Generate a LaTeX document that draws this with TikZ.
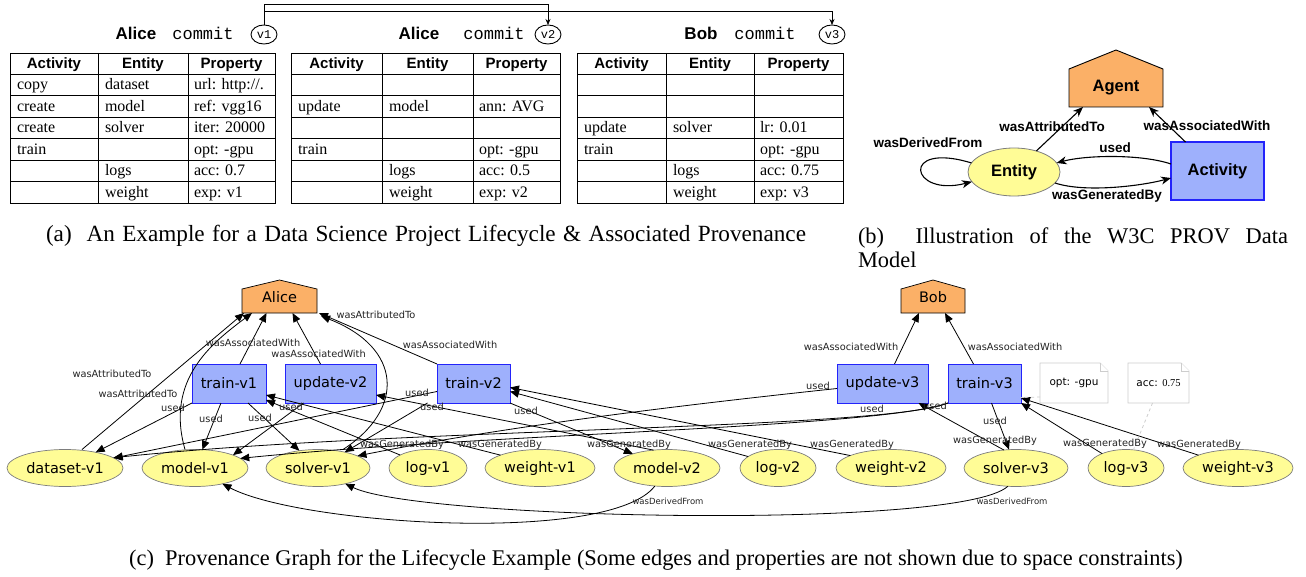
\documentclass[tikz,border=0pt]{standalone}
\usepackage{fontspec}
\setmainfont{Liberation Serif}
\newfontfamily\hvfont{Liberation Sans}
\newfontfamily\crfont{Liberation Mono}
\newfontfamily\dvfont{DejaVu Sans}
\usetikzlibrary{arrows.meta,shapes.geometric,backgrounds}

\definecolor{entfill}{RGB}{255,252,150}
\definecolor{entline}{RGB}{125,125,125}
\definecolor{actfill}{RGB}{158,176,252}
\definecolor{actline}{RGB}{35,35,250}
\definecolor{agfill}{RGB}{251,176,103}
\definecolor{noteline}{RGB}{205,205,205}
\definecolor{lbltext}{RGB}{35,35,35}

\newcommand\fs[1]{\fontsize{#1}{#1}\selectfont}

% one provenance table: id, left, column 1, column 2, right
\newcommand\provgrid[5]{%
  \draw[gridline] (#2,53) rectangle (#5,203);
  \foreach \yy in {74,95.5,117,138.5,160,181.5}{\draw[gridline] (#2,\yy) -- (#5,\yy);}
  \draw[gridline] (#3,53) -- (#3,203);
  \draw[gridline] (#4,53) -- (#4,203);
  \node[headtxt] (#1ha) at ({(#2+#3)/2},68.5) {Activity};
  \node[headtxt] (#1he) at ({(#3+#4)/2},68.5) {Entity};
  \node[headtxt] (#1hp) at ({(#4+#5)/2},68.5) {Property};
}
% one table row: id, row, left, column 1, column 2, activity, entity, property
\newcommand\provrow[8]{%
  \pgfmathsetmacro\rowbase{74+21.5*#2+16}
  \node[celltxt] (#1a#2) at (#3+7,\rowbase) {#6};
  \node[celltxt] (#1e#2) at (#4+7,\rowbase) {#7};
  \node[celltxt] (#1p#2) at (#5+6,\rowbase) {#8};
}

\tikzset{
  every node/.style={inner sep=0pt, outer sep=0pt},
  gridline/.style={line width=0.9pt},
  headtxt/.style={anchor=base, font=\hvfont\bfseries\fs{15}},
  celltxt/.style={anchor=base west, font=\fs{16}},
  titletxt/.style={anchor=base, font=\hvfont\bfseries\fs{17}},
  committxt/.style={anchor=base, font=\crfont\fs{17}},
  vcirc/.style={ellipse, draw, line width=0.9pt, minimum width=26pt, minimum height=19pt, font=\crfont\fs{12}},
  commitarr/.style={line width=0.7pt, -{Stealth[length=6pt,width=5pt]}},
  % overview model
  bent/.style={ellipse, draw=entline, fill=entfill, line width=0.8pt, minimum width=92pt, minimum height=48pt, font=\hvfont\bfseries\fs{16.5}},
  bact/.style={rectangle, draw=actline, fill=actfill, line width=1.1pt, minimum width=93pt, minimum height=58pt, font=\hvfont\bfseries\fs{16.5}},
  bagent/.style={rectangle, minimum width=94pt, minimum height=38pt, text height=12pt, text depth=4.8pt, font=\hvfont\bfseries\fs{16.5}},
  agshape/.style={draw=black, fill=agfill, line width=0.9pt},
  bedge/.style={line width=1.1pt, -{Stealth[length=10pt,width=8pt,inset=3pt]}},
  blbl/.style={font=\hvfont\bfseries\fs{13.5}},
  % provenance graph
  ent/.style={ellipse, draw=entline, fill=entfill, line width=0.7pt, minimum height=37pt, font=\dvfont\fs{14.5}},
  act/.style={rectangle, draw=actline, fill=actfill, line width=1pt, minimum height=39pt, font=\dvfont\fs{14.5}},
  agent/.style={rectangle, minimum height=24pt, text height=10pt, text depth=7.4pt, font=\dvfont\fs{14.5}},
  note/.style={rectangle, minimum height=40pt, font=\dvfont\fs{10.5}},
  noteshape/.style={draw=noteline, fill=white, line width=0.9pt},
  notelink/.style={draw=noteline, line width=0.8pt, dashed},
  rel/.style={line width=0.8pt, -{Triangle[length=9pt,width=7.5pt]}},
  rlbl/.style={font=\dvfont\fs{9.8}, text=lbltext},
  dlbl/.style={font=\dvfont\fs{8.5}, text=lbltext},
  captxt/.style={font=\fs{22.4}},
}

\begin{document}
\begin{tikzpicture}[x=1pt, y=-1pt]
\useasboundingbox (0,0) rectangle (1306,577);

% ---------- (a) commits and their tables ----------
\node[titletxt] (t1who) at (136,40) {Alice};
\node[committxt] (t1cm) at (203,40) {commit};
\node[vcirc] (v1) at (264,34.5) {v1};
\node[titletxt] (t2who) at (419,40) {Alice};
\node[committxt] (t2cm) at (494,40) {commit};
\node[vcirc] (v2) at (548,34.5) {v2};
\node[titletxt] (t3who) at (701,40) {Bob};
\node[committxt] (t3cm) at (765,40) {commit};
\node[vcirc] (v3) at (832,34.5) {v3};

\draw[commitarr] (v1.north) -- ([yshift=21]v1.north) -| (v2.north);
\draw[commitarr] (v1.north) -- ([yshift=14]v1.north) -| (v3.north);

\provgrid{TA}{10}{98}{188}{275}
\provrow{TA}{0}{10}{98}{188}{copy}{dataset}{url: http://.}
\provrow{TA}{1}{10}{98}{188}{create}{model}{ref: vgg16}
\provrow{TA}{2}{10}{98}{188}{create}{solver}{iter: 20000}
\provrow{TA}{3}{10}{98}{188}{train}{}{opt: -gpu}
\provrow{TA}{4}{10}{98}{188}{}{logs}{acc: 0.7}
\provrow{TA}{5}{10}{98}{188}{}{weight}{exp: v1}

\provgrid{TB}{291}{382}{473}{560}
\provrow{TB}{1}{291}{382}{473}{update}{model}{ann: AVG}
\provrow{TB}{3}{291}{382}{473}{train}{}{opt: -gpu}
\provrow{TB}{4}{291}{382}{473}{}{logs}{acc: 0.5}
\provrow{TB}{5}{291}{382}{473}{}{weight}{exp: v2}

\provgrid{TC}{577}{666}{754}{843}
\provrow{TC}{2}{577}{666}{754}{update}{solver}{lr: 0.01}
\provrow{TC}{3}{577}{666}{754}{train}{}{opt: -gpu}
\provrow{TC}{4}{577}{666}{754}{}{logs}{acc: 0.75}
\provrow{TC}{5}{577}{666}{754}{}{weight}{exp: v3}

% ---------- (b) PROV core model ----------
\node[bent] (E) at (1014,172) {Entity};
\node[bact] (A) at (1217.5,171) {Activity};
\node[bagent] (Ag) at (1116,88) {Agent};
\begin{scope}[on background layer]
  \draw[agshape] (Ag.south west) -- (Ag.north west) -- ([yshift=19]Ag.north) -- (Ag.north east) -- (Ag.south east) -- cycle;
\end{scope}
\draw[bedge] (E) -- ([xshift=-33]Ag.south);
\draw[bedge] ([xshift=-32]A.north) -- ([xshift=33]Ag.south);
\draw[bedge] ([yshift=7]A.west) .. controls +(-30,-10) and +(30,-8) .. (E.12);
\draw[bedge] (E.-15) .. controls +(30,10) and +(-30,8) .. ([yshift=-7]A.west);
\draw[bedge] (E.168) .. controls +(-72,-22) and +(-62,16) .. (E.193);
\node[blbl] (bl1) at (1052,127) {wasAttributedTo};
\node[blbl] (bl2) at (1207,126) {wasAssociatedWith};
\node[blbl] (bl3) at (1115,148) {used};
\node[blbl] (bl4) at (1107,196) {wasGeneratedBy};
\node[blbl] (bl5) at (928,143) {wasDerivedFrom};

% ---------- captions ----------
\node[captxt, font=\fs{23.2}] (capa) at (426,236) {\makebox[760pt][s]{(a)\ \ An Example for a Data Science Project Lifecycle \& Associated Provenance}};
\node[captxt, anchor=base west] (capb1) at (858,243.5) {\makebox[430pt][s]{(b)\ \ Illustration of the W3C PROV Data}};
\node[captxt, anchor=base west] (capb2) at (858,267.5) {Model};
\node[captxt] (capc) at (656,560) {(c)\ \ Provenance Graph for the Lifecycle Example (Some edges and properties are not shown due to space constraints)};

% ---------- (c) provenance graph: agents ----------
\node[agent, minimum width=75pt] (alice) at (279.5,301) {Alice};
\node[agent, minimum width=64pt] (bob) at (933,301) {Bob};
\begin{scope}[on background layer]
  \draw[agshape, line width=0.7pt] (alice.south west) -- (alice.north west) -- ([yshift=9]alice.north) -- (alice.north east) -- (alice.south east) -- cycle;
  \draw[agshape, line width=0.7pt] (bob.south west) -- (bob.north west) -- ([yshift=9]bob.north) -- (bob.north east) -- (bob.south east) -- cycle;
\end{scope}

% activities
\node[act, minimum width=74pt] (tr1) at (229,383.5) {train-v1};
\node[act, minimum width=91pt] (up2) at (330.5,383.5) {update-v2};
\node[act, minimum width=73pt] (tr2) at (473.5,383.5) {train-v2};
\node[act, minimum width=91pt] (up3) at (882.5,383.5) {update-v3};
\node[act, minimum width=73pt] (tr3) at (984.5,383.5) {train-v3};

% property notes
\node[note, minimum width=68pt] (n1) at (1074,383) {opt: -gpu};
\node[note, minimum width=61pt] (n2) at (1158.5,383) {acc: {\rmfamily 0.75}};
\begin{scope}[on background layer]
  \foreach \nn in {n1,n2}{
    \draw[noteshape] (\nn.north west) -- ([xshift=-8]\nn.north east) -- ([yshift=-8]\nn.north east) -- (\nn.south east) -- (\nn.south west) -- cycle;
    \draw[noteshape] ([xshift=-8]\nn.north east) -- ([xshift=-8,yshift=-8]\nn.north east) -- ([yshift=-8]\nn.north east);
  }
\end{scope}

% entities
\node[ent, minimum width=116pt] (d1) at (65,468) {dataset-v1};
\node[ent, minimum width=106pt] (m1) at (195,468) {model-v1};
\node[ent, minimum width=104pt] (s1) at (318,468) {solver-v1};
\node[ent, minimum width=78pt]  (l1) at (428,468) {log-v1};
\node[ent, minimum width=110pt] (w1) at (540,468) {weight-v1};
\node[ent, minimum width=106pt] (m2) at (667,468) {model-v2};
\node[ent, minimum width=76pt]  (l2) at (778,468) {log-v2};
\node[ent, minimum width=110pt] (w2) at (891,468) {weight-v2};
\node[ent, minimum width=104pt] (s3) at (1016,468) {solver-v3};
\node[ent, minimum width=76pt]  (l3) at (1126,468) {log-v3};
\node[ent, minimum width=110pt] (w3) at (1238,468) {weight-v3};

% attribution and association
\draw[rel] ([xshift=17]d1.north) -- ([xshift=2]alice.south west);
\draw[rel] ([xshift=-10]m1.north) .. controls +(-20,-70) and +(-40,30) .. ([xshift=10]alice.south west);
\draw[rel] ([xshift=11]tr1.north) -- ([xshift=-13]alice.south);
\draw[rel] ([xshift=-10]up2.north) -- ([xshift=13]alice.south);
\draw[rel] (tr2.north west) -- ([xshift=2]alice.south east);
\draw[rel] ([xshift=25]s1.north) .. controls +(62,-40) and +(82,32) .. ([xshift=4,yshift=-3]alice.south east);
\draw[rel] ([xshift=12]up3.north) -- ([xshift=-14]bob.south);
\draw[rel] ([xshift=-11]tr3.north) -- ([xshift=12]bob.south);

% usage
\draw[rel] (tr1.south west) -- (d1);
\draw[rel] ([xshift=-8]tr1.south) -- (m1);
\draw[rel] ([xshift=19]tr1.south) -- (s1);
\draw[rel] ([xshift=-27]up2.south) -- ([xshift=38,yshift=-5.6]m1.north);
\draw[rel] ([yshift=-8]tr2.west) -- (d1);
\draw[rel] ([xshift=-46]tr2.south) -- (s1);
\draw[rel] (tr2.south east) -- (m2);
\draw[rel] ([yshift=-5]up3.west) .. controls +(-150,16) and +(150,-30) .. (s1.17);
\draw[rel] (tr3.south west) .. controls +(-68,27) and +(287,-30) .. (d1.12);
\draw[rel] (tr3.south west) .. controls +(-70,25) and +(250,-25) .. (m1.12);
\draw[rel] ([xshift=7]tr3.south) -- (s3);

% generation
\draw[rel] (l1.155) -- ([yshift=3]tr1.south east);
\draw[rel] (w1.162) -- ([yshift=8]tr1.south east);
\draw[rel] (m2.127) -- ([yshift=-11.5]up2.east);
\draw[rel] (l2.159) -- ([yshift=-8]tr2.east);
\draw[rel] (w2.163) -- ([yshift=-4]tr2.east);
\draw[rel] (s3.124) -- ([xshift=36]up3.south);
\draw[rel] (l3.149) -- (tr3.south east);
\draw[rel] (w3.162) -- ([yshift=5]tr3.south east);

% derivation
\draw[rel] (m2.236) .. controls +(-45,59) and +(78,41) .. (m1.330);
\draw[rel] (s3.246) .. controls +(-48,44) and +(75,36) .. (s1.330);

% note links
\draw[notelink] ([yshift=-14]n1.west) -- ([yshift=-14]tr3.east);
\draw[notelink] ([xshift=-6]n2.south) -- (l3);

% edge labels
\node[rlbl] (la1) at (112,374) {wasAttributedTo};
\node[rlbl] (la2) at (138,394) {wasAttributedTo};
\node[rlbl] (la3) at (376,315) {wasAttributedTo};
\node[rlbl] (lw1) at (253,343) {wasAssociatedWith};
\node[rlbl] (lw2) at (318.5,354) {wasAssociatedWith};
\node[rlbl] (lw3) at (450,345) {wasAssociatedWith};
\node[rlbl] (lw4) at (851,347) {wasAssociatedWith};
\node[rlbl] (lw5) at (1015,347) {wasAssociatedWith};
\node[rlbl] (lu1) at (173,408) {used};
\node[rlbl] (lu2) at (211,419) {used};
\node[rlbl] (lu3) at (260,418) {used};
\node[rlbl] (lu4) at (291,407) {used};
\node[rlbl] (lu5) at (417,393) {used};
\node[rlbl] (lu6) at (432,407) {used};
\node[rlbl] (lu7) at (526,411) {used};
\node[rlbl] (lu8) at (818,386) {used};
\node[rlbl] (lu9) at (872,409) {used};
\node[rlbl] (lu10) at (935,406) {used};
\node[rlbl] (lu11) at (995,421) {used};
\node[rlbl] (lg1) at (402,445) {wasGeneratedBy};
\node[rlbl] (lg2) at (500,445) {wasGeneratedBy};
\node[rlbl] (lg3) at (629,445) {wasGeneratedBy};
\node[rlbl] (lg4) at (750,445) {wasGeneratedBy};
\node[rlbl] (lg5) at (852,445) {wasGeneratedBy};
\node[rlbl] (lg6) at (995,441) {wasGeneratedBy};
\node[rlbl] (lg7) at (1105,444) {wasGeneratedBy};
\node[rlbl] (lg8) at (1199,445) {wasGeneratedBy};
\node[dlbl] (ld1) at (668,501) {wasDerivedFrom};
\node[dlbl] (ld2) at (1012,501) {wasDerivedFrom};
\end{tikzpicture}
\end{document}
